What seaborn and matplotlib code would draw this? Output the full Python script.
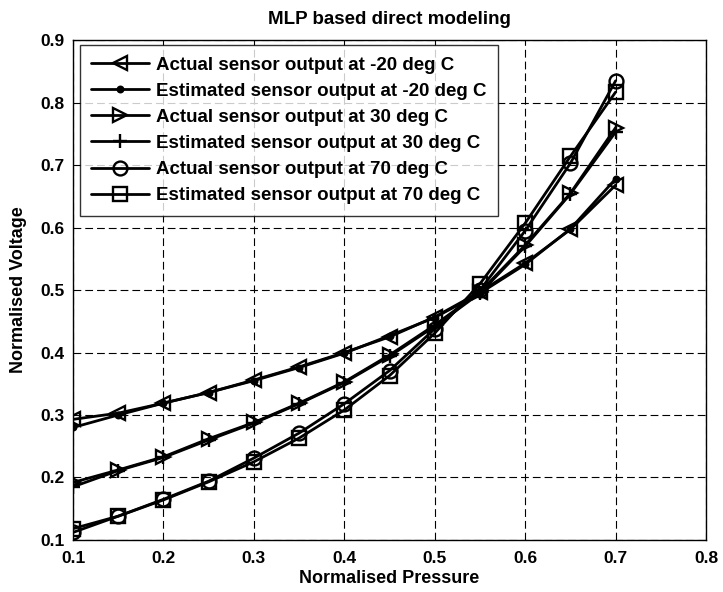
import numpy as np
import pandas as pd
import matplotlib
matplotlib.use("Agg")
import matplotlib.pyplot as plt
import seaborn as sns

# --------------------------
# Data
# --------------------------
pressure = [0.1, 0.15, 0.2, 0.25, 0.3, 0.35, 0.4, 0.45, 0.5, 0.55, 0.6, 0.65, 0.7]

actual_m20 = [0.293, 0.303, 0.319, 0.336, 0.356, 0.377, 0.400, 0.425, 0.457, 0.497, 0.543, 0.597, 0.668]
estim_m20 = [0.280, 0.300, 0.319, 0.336, 0.355, 0.376, 0.399, 0.427, 0.456, 0.495, 0.541, 0.598, 0.678]
actual_30 = [0.192, 0.212, 0.233, 0.262, 0.288, 0.319, 0.353, 0.396, 0.444, 0.497, 0.572, 0.655, 0.760]
estim_30 = [0.185, 0.211, 0.232, 0.260, 0.287, 0.318, 0.352, 0.394, 0.442, 0.495, 0.570, 0.654, 0.753]
actual_70 = [0.112, 0.138, 0.165, 0.194, 0.231, 0.271, 0.318, 0.371, 0.438, 0.500, 0.595, 0.703, 0.835]
estim_70 = [0.118, 0.138, 0.164, 0.193, 0.225, 0.263, 0.308, 0.363, 0.431, 0.510, 0.607, 0.714, 0.817]

labels = [
    "Actual sensor output at -20 deg C",
    "Estimated sensor output at -20 deg C",
    "Actual sensor output at 30 deg C",
    "Estimated sensor output at 30 deg C",
    "Actual sensor output at 70 deg C",
    "Estimated sensor output at 70 deg C",
]
series = [actual_m20, estim_m20, actual_30, estim_30, actual_70, estim_70]
markers = ["<", ".", ">", "+", "o", "s"]

# --------------------------
# Build long table
# --------------------------
rows = []
for lab, vals in zip(labels, series):
    for x, y in zip(pressure, vals):
        rows.append({"Pressure": x, "Voltage": y, "Series": lab})
df = pd.DataFrame(rows)

# --------------------------
# Plot
# --------------------------
sns.set_style("white")
plt.rcParams["font.family"] = ["Liberation Sans", "DejaVu Sans"]
plt.rcParams["font.weight"] = "bold"
plt.rcParams["text.color"] = "black"
plt.rcParams["axes.labelcolor"] = "black"
plt.rcParams["xtick.color"] = "black"
plt.rcParams["ytick.color"] = "black"

fig = plt.figure(figsize=(7.23, 5.92), dpi=100)
ax = fig.add_axes([0.101, 0.088, 0.8755, 0.844])

for lab, m in zip(labels, markers):
    sub = df[df["Series"] == lab]
    msize = 8 if m == "." else 10
    sns.lineplot(data=sub, x="Pressure", y="Voltage", ax=ax, color="black",
                 linewidth=2, marker=m, markersize=msize,
                 markerfacecolor="none" if m not in (".", "+") else "black",
                 markeredgecolor="black", markeredgewidth=1.7, label=lab)

ticks_x = np.arange(0.1, 0.81, 0.1)
ticks_y = np.arange(0.1, 0.91, 0.1)
ax.set_xlim(0.1, 0.8)
ax.set_ylim(0.1, 0.9)
ax.set_xticks(ticks_x)
ax.set_yticks(ticks_y)
ax.set_xticklabels([f"{t:.1f}" for t in ticks_x])
ax.set_yticklabels([f"{t:.1f}" for t in ticks_y])
ax.tick_params(axis="both", labelsize=12.5, direction="in", length=4,
               color="black", labelcolor="black", pad=6)
ax.tick_params(axis="x", pad=8)
for lbl in ax.get_xticklabels() + ax.get_yticklabels():
    lbl.set_fontweight("bold")

ax.grid(True, linestyle=(0, (7, 3.6)), color="black", linewidth=0.8)
for s in ax.spines.values():
    s.set_color("black")
    s.set_linewidth(1)

ax.set_xlabel("Normalised Pressure", fontsize=13, fontweight="bold",
              labelpad=3, color="black")
ax.set_ylabel("Normalised Voltage", fontsize=13, fontweight="bold",
              labelpad=10, color="black")
ax.set_title("MLP based direct modeling", fontsize=13.5, fontweight="bold",
             pad=12, color="black")

leg = ax.legend(loc="upper left", bbox_to_anchor=(0.011, 0.99), frameon=True,
                fancybox=False, edgecolor="black", fontsize=13.5,
                handlelength=3.1, borderpad=0.6, labelspacing=0.48,
                handletextpad=0.35, borderaxespad=0.0)
leg.get_frame().set_linewidth(1)
for t in leg.get_texts():
    t.set_fontweight("bold")
    t.set_color("black")

fig.savefig("out.png", dpi=100)
